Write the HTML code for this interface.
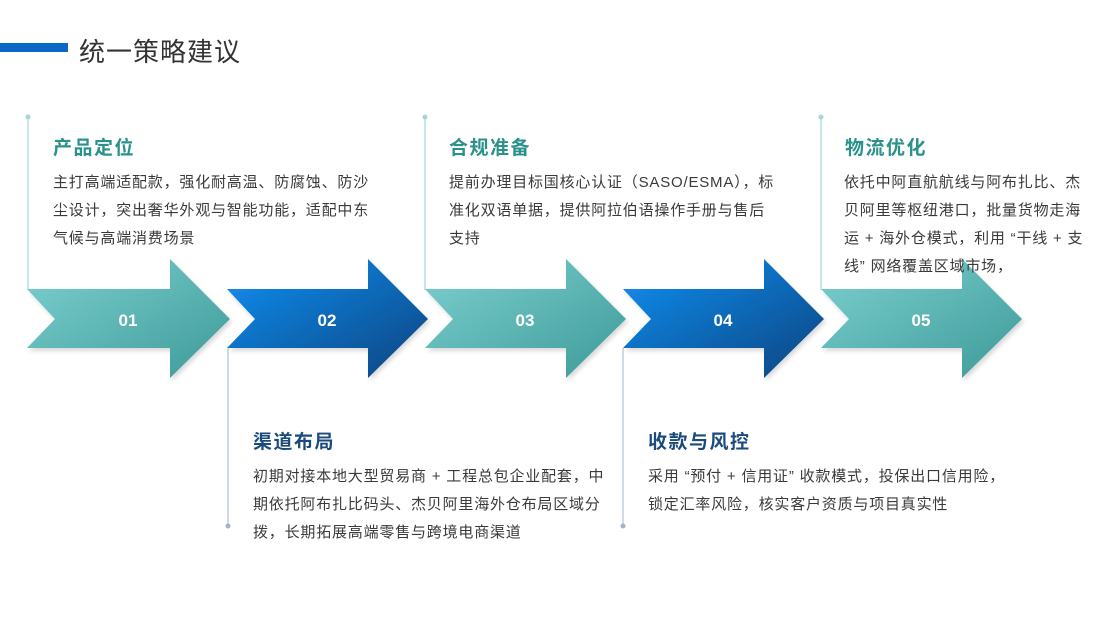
<!DOCTYPE html>
<html><head><meta charset="utf-8"><style>
body{margin:0;width:1100px;height:619px;background:#fff;position:relative;overflow:hidden;font-family:"Liberation Sans","Noto Sans CJK SC",sans-serif}
.t{position:absolute;white-space:nowrap}
.h{font-size:19px;font-weight:bold;letter-spacing:1.5px}
.g{color:#2a9289}.b{color:#1b4a7c}
.p{font-size:15px;color:#3a3a3a;line-height:28px;letter-spacing:0.8px}
</style></head><body>
<div style="position:absolute;left:0;top:43px;width:68px;height:9px;background:#0b68c4"></div>
<div class="t" style="left:79px;top:32px;font-size:26px;color:#333;letter-spacing:1px">统一策略建议</div>
<svg width="1100" height="619" style="position:absolute;left:0;top:0">
<defs>
<linearGradient id="tg" x1="0" y1="0" x2="1" y2="1"><stop offset="0" stop-color="#7dd0d0"/><stop offset="1" stop-color="#3d9a98"/></linearGradient>
<linearGradient id="bg" x1="0" y1="0" x2="1" y2="1"><stop offset="0" stop-color="#1490f2"/><stop offset="1" stop-color="#08437f"/></linearGradient>
<filter id="s" x="-10%" y="-10%" width="130%" height="130%"><feDropShadow dx="2" dy="3" stdDeviation="2" flood-color="#000" flood-opacity="0.15"/></filter>
</defs>
<g stroke-width="1.2">
<line x1="28" y1="117" x2="28" y2="290" stroke="#a8d5d5"/><circle cx="28" cy="117" r="2.5" fill="#a8d5d5"/>
<line x1="425" y1="117" x2="425" y2="290" stroke="#a8d5d5"/><circle cx="425" cy="117" r="2.5" fill="#a8d5d5"/>
<line x1="821" y1="117" x2="821" y2="290" stroke="#a8d5d5"/><circle cx="821" cy="117" r="2.5" fill="#a8d5d5"/>
<line x1="228" y1="348" x2="228" y2="526" stroke="#b0c0d4"/><circle cx="228" cy="526" r="2.5" fill="#a0b4cc"/>
<line x1="623" y1="348" x2="623" y2="526" stroke="#b0c0d4"/><circle cx="623" cy="526" r="2.5" fill="#a0b4cc"/>
</g>
<g filter="url(#s)">
<path d="M27 289H170V259L230 319L170 378V348H27L55 319Z" fill="url(#tg)"/>
<path d="M227 289H368V259L428 319L368 378V348H227L255 319Z" fill="url(#bg)"/>
<path d="M425 289H566V259L626 319L566 378V348H425L453 319Z" fill="url(#tg)"/>
<path d="M623 289H764V259L824 319L764 378V348H623L651 319Z" fill="url(#bg)"/>
<path d="M821 289H962V259L1022 319L962 378V348H821L849 319Z" fill="url(#tg)"/>
</g>
<g fill="#fff" font-size="17" font-weight="bold" text-anchor="middle" font-family="Liberation Sans,sans-serif">
<text x="128" y="326">01</text><text x="327" y="326">02</text><text x="525" y="326">03</text><text x="723" y="326">04</text><text x="921" y="326">05</text>
</g>
</svg>
<div class="t h g" style="left:53px;top:133px">产品定位</div>
<div class="t p" style="left:53px;top:169px">主打高端适配款，强化耐高温、防腐蚀、防沙<br>尘设计，突出奢华外观与智能功能，适配中东<br>气候与高端消费场景</div>
<div class="t h g" style="left:449px;top:133px">合规准备</div>
<div class="t p" style="left:449px;top:169px">提前办理目标国核心认证（SASO/ESMA），标<br>准化双语单据，提供阿拉伯语操作手册与售后<br>支持</div>
<div class="t h g" style="left:845px;top:133px">物流优化</div>
<div class="t p" style="left:844px;top:169px">依托中阿直航航线与阿布扎比、杰<br>贝阿里等枢纽港口，批量货物走海<br>运 + 海外仓模式，利用 “干线 + 支<br>线” 网络覆盖区域市场，</div>
<div class="t h b" style="left:253px;top:427px">渠道布局</div>
<div class="t p" style="left:253px;top:463px">初期对接本地大型贸易商 + 工程总包企业配套，中<br>期依托阿布扎比码头、杰贝阿里海外仓布局区域分<br>拨，长期拓展高端零售与跨境电商渠道</div>
<div class="t h b" style="left:648px;top:427px">收款与风控</div>
<div class="t p" style="left:648px;top:463px">采用 “预付 + 信用证” 收款模式，投保出口信用险，<br>锁定汇率风险，核实客户资质与项目真实性</div>
</body></html>
